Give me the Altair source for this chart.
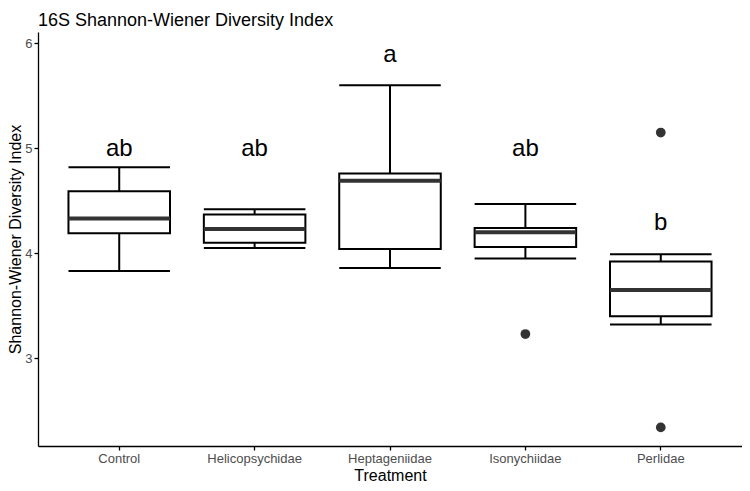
import altair as alt
import pandas as pd

# ---- data ----
categories = ["Control", "Helicopsychidae", "Heptageniidae", "Isonychiidae", "Perlidae"]
lower_whisker = [3.83, 4.05, 3.86, 3.95, 3.32]
q1 = [4.19, 4.10, 4.04, 4.06, 3.40]
median = [4.33, 4.23, 4.69, 4.20, 3.65]
q3 = [4.59, 4.37, 4.76, 4.24, 3.92]
upper_whisker = [4.82, 4.42, 5.60, 4.47, 3.99]

outlier_cat = ["Isonychiidae", "Perlidae", "Perlidae"]
outlier_val = [3.23, 5.15, 2.34]

letters = ["ab", "ab", "a", "ab", "b"]
letter_y = [4.99, 4.99, 5.89, 4.99, 4.29]

y_ticks = [3, 4, 5, 6]

# ---- tables ----
box = pd.DataFrame({
    "Treatment": categories,
    "lo": lower_whisker, "q1": q1, "med": median, "q3": q3, "hi": upper_whisker,
})
out = pd.DataFrame({"Treatment": outlier_cat, "val": outlier_val})
lab = pd.DataFrame({"Treatment": categories, "letter": letters, "y": letter_y})

# ---- layout ----
W, H = 704, 414
step = W / 5.2
bw = 0.75 * step
FONT = "Liberation Sans"

xscale = alt.Scale(domain=categories, paddingInner=0.25, paddingOuter=0.225)
yscale = alt.Scale(domain=[2.163, 6.108], nice=False, zero=False)

x_enc = alt.X("Treatment:N", scale=xscale, sort=categories,
              axis=alt.Axis(title="Treatment", labelAngle=0))
y_axis = alt.Axis(title="Shannon-Wiener Diversity Index", values=y_ticks, format="d")

base = alt.Chart(box)

whisk = base.mark_rule(color="black", strokeWidth=2).encode(
    x=x_enc,
    y=alt.Y("lo:Q", scale=yscale, axis=y_axis),
    y2="hi:Q",
)
boxes = base.mark_bar(fill="white", stroke="black", strokeWidth=2).encode(
    x=x_enc, y=alt.Y("q1:Q", scale=yscale), y2="q3:Q",
)
cap_lo = base.mark_tick(color="black", opacity=1, thickness=2, size=bw).encode(
    x=x_enc, y=alt.Y("lo:Q", scale=yscale))
cap_hi = base.mark_tick(color="black", opacity=1, thickness=2, size=bw).encode(
    x=x_enc, y=alt.Y("hi:Q", scale=yscale))
med = base.mark_tick(color="#333333", opacity=1, thickness=4, size=bw).encode(
    x=x_enc, y=alt.Y("med:Q", scale=yscale))

pts = alt.Chart(out).mark_circle(color="#333333", opacity=1, size=95).encode(
    x=x_enc, y=alt.Y("val:Q", scale=yscale))

txt = alt.Chart(lab).mark_text(fontSize=24, font=FONT, color="black",
                               baseline="middle").encode(
    x=x_enc, y=alt.Y("y:Q", scale=yscale), text="letter:N")

chart = alt.layer(whisk, boxes, cap_lo, cap_hi, med, pts, txt).properties(
    width=W, height=H,
    autosize=alt.AutoSizeParams(type="none"),
    padding={"left": 30, "top": 24, "right": 0, "bottom": 37},
    title=alt.TitleParams(
        "16S Shannon-Wiener Diversity Index",
        anchor="start", frame="group", fontSize=18, font=FONT,
        fontWeight="normal", color="black", offset=4, baseline="alphabetic",
        dy=16,
    ),
).configure_view(stroke=None).configure_axis(
    grid=False,
    domainColor="black", domainWidth=1.3,
    tickColor="black", tickWidth=1.3, tickSize=4,
    labelFont=FONT, labelFontSize=13, labelColor="#4d4d4d", labelPadding=2,
    titleFont=FONT, titleFontSize=16, titleColor="black", titleFontWeight="normal",
    titlePadding=2,
).configure_axisY(titlePadding=1)

chart.save("out.html", embed_options={"renderer": "svg", "actions": False})
